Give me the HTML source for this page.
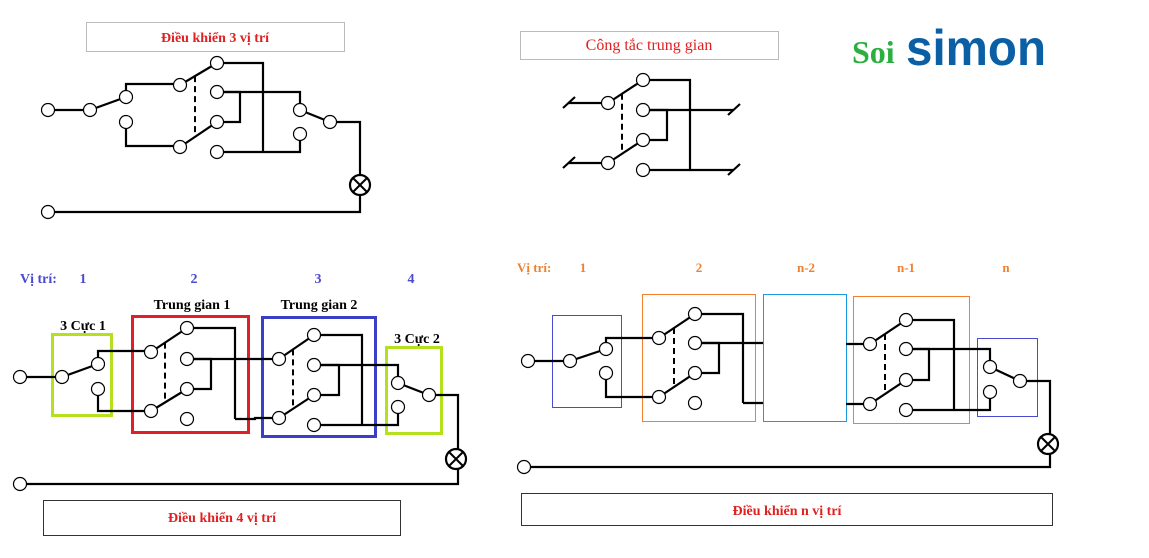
<!DOCTYPE html>
<html><head><meta charset="utf-8"><style>
html,body{margin:0;padding:0;background:#fff;}
body{width:1149px;height:558px;overflow:hidden;position:relative;}
svg{position:absolute;left:0;top:0;}
text{font-family:"Liberation Serif",serif;}
</style></head><body>
<svg id="s" width="1149" height="558" xmlns="http://www.w3.org/2000/svg">
<g fill="none" stroke-width="1">
<rect x="86.5" y="22.5" width="258" height="29" stroke="#bbb"/>
<rect x="520.5" y="31.5" width="258" height="28" stroke="#bbb"/>
<rect x="43.5" y="500.5" width="357" height="35" stroke="#333"/>
<rect x="521.5" y="493.5" width="531" height="32" stroke="#333"/>
<rect x="52.5" y="334.5" width="59" height="81" stroke="#b5e01e" stroke-width="3"/>
<rect x="132.5" y="316.5" width="116" height="116" stroke="#e02028" stroke-width="3"/>
<rect x="262.5" y="317.5" width="113" height="119" stroke="#3b3fc8" stroke-width="3"/>
<rect x="386.5" y="347.5" width="55" height="86" stroke="#b5e01e" stroke-width="3"/>
<rect x="552.5" y="315.5" width="69" height="92" stroke="#4a4ad0"/>
<rect x="642.5" y="294.5" width="113" height="127" stroke="#f08030"/>
<rect x="763.5" y="294.5" width="83" height="127" stroke="#1a9ae0"/>
<rect x="853.5" y="296.5" width="116" height="127" stroke="#f08030"/>
<rect x="977.5" y="338.5" width="60" height="78" stroke="#4a4ad0"/>
</g>
<g id="w" stroke="#000" stroke-width="2.2" fill="none"></g>
<g id="c" stroke="#000" stroke-width="1.2" fill="#fff"></g>
<text x="215" y="42" fill="#e02020" font-size="14" font-weight="bold" text-anchor="middle">Điều khiển 3 vị trí</text>
<text x="649" y="50" fill="#e02020" font-size="16" text-anchor="middle">Công tắc trung gian</text>
<text x="222" y="522" fill="#e02020" font-size="14" font-weight="bold" text-anchor="middle">Điều khiển 4 vị trí</text>
<text x="787" y="515" fill="#e02020" font-size="14" font-weight="bold" text-anchor="middle">Điều khiển n vị trí</text>
<text x="852" y="63" fill="#2bb040" font-size="32" font-weight="bold">Soi</text>
<text x="906" y="65" fill="#0b5fa5" font-size="50" font-weight="bold" style="font-family:'Liberation Sans',sans-serif" textLength="140" lengthAdjust="spacingAndGlyphs">simon</text>
<g fill="#4a4ad0" font-size="14" font-weight="bold">
<text x="20" y="283">Vị trí:</text>
<text x="83" y="283" text-anchor="middle">1</text>
<text x="194" y="283" text-anchor="middle">2</text>
<text x="318" y="283" text-anchor="middle">3</text>
<text x="411" y="283" text-anchor="middle">4</text>
</g>
<g fill="#000" font-size="14" font-weight="bold" text-anchor="middle">
<text x="83" y="330">3 Cực 1</text>
<text x="192" y="309">Trung gian 1</text>
<text x="319" y="309">Trung gian 2</text>
<text x="417" y="343">3 Cực 2</text>
</g>
<g fill="#f08030" font-size="13" font-weight="bold">
<text x="517" y="272">Vị trí:</text>
<text x="583" y="272" text-anchor="middle">1</text>
<text x="699" y="272" text-anchor="middle">2</text>
<text x="806" y="272" text-anchor="middle">n-2</text>
<text x="906" y="272" text-anchor="middle">n-1</text>
<text x="1006" y="272" text-anchor="middle">n</text>
</g>
</svg>
<script>
var W=document.getElementById('w'),C=document.getElementById('c'),NS='http://www.w3.org/2000/svg';
function P(d,dash){var p=document.createElementNS(NS,'path');p.setAttribute('d',d);if(dash){p.setAttribute('stroke-dasharray','6,4');p.setAttribute('stroke-width','2');}W.appendChild(p);}
function O(x,y){var c=document.createElementNS(NS,'circle');c.setAttribute('cx',x);c.setAttribute('cy',y);c.setAttribute('r',6.5);C.appendChild(c);}
function TG(lx,l1,l2,rx,r,lg,sh,dx){
 O(lx,l1);O(lx,l2);r.forEach(function(y){O(rx,y);});
 P('M'+lx+' '+l1+'L'+rx+' '+r[0]);P('M'+lx+' '+l2+'L'+rx+' '+r[2]);
 var t=(dx-lx)/(rx-lx);
 P('M'+dx+' '+(l1+(r[0]-l1)*t)+'L'+dx+' '+(l2+(r[2]-l2)*t),1);
 P('M'+rx+' '+r[0]+'H'+lg+'V'+r[3]);P('M'+rx+' '+r[1]+'H'+sh+'V'+r[2]+'H'+rx);
}
function lamp(x,y){var c=document.createElementNS(NS,'circle');c.setAttribute('cx',x);c.setAttribute('cy',y);c.setAttribute('r',10);C.appendChild(c);
 var g=document.createElementNS(NS,'path');g.setAttribute('d','M'+(x-7)+' '+(y-7)+'L'+(x+7)+' '+(y+7)+'M'+(x+7)+' '+(y-7)+'L'+(x-7)+' '+(y+7));g.setAttribute('stroke-width','2');C.appendChild(g);
 c.setAttribute('stroke-width','2.2');}
// top-left
P('M48 110H90L126 97V84H180');P('M126 122V146H180');
TG(180,85,147,217,[63,92,122,152],263,240,195);
P('M217 92H300V110');P('M217 152H300V134');P('M300 110L330 122H360V212H48');
O(48,110);O(90,110);O(126,97);O(126,122);O(300,110);O(300,134);O(330,122);O(48,212);lamp(360,185);
// top middle
TG(608,103,163,643,[80,110,140,170],690,667,622);
P('M568 103H608');P('M568 163H608');P('M643 110H733');P('M643 170H733');
P('M563 108L575 97');P('M563 168L575 157');P('M728 115L740 104');P('M728 175L740 164');
// bottom-left
P('M20 377H62L98 364V351H151');P('M98 389V411H151');
TG(151,352,411,187,[328,359,389,419],235,211,165);
P('M187 359H279');P('M235 419H255V418H279');
TG(279,359,418,314,[335,365,395,425],362,339,293);
P('M314 365H398V383');P('M314 425H398V407');P('M398 383L429 395H458V484H20');
O(20,377);O(62,377);O(98,364);O(98,389);O(398,383);O(398,407);O(429,395);O(20,484);lamp(456,459);
// bottom-right
P('M528 361H570L606 349V338H659');P('M606 373V397H659');
TG(659,338,397,695,[314,343,373,403],743,719,674);
P('M695 343H763');P('M743 403H763');
P('M846 344H870');P('M846 404H870');
TG(870,344,404,906,[320,349,380,410],954,929,885);
P('M906 349H990V367');P('M906 410H990V392');P('M990 367L1020 381H1050V467H524');
O(528,361);O(570,361);O(606,349);O(606,373);O(990,367);O(990,392);O(1020,381);O(524,467);lamp(1048,444);
</script>
</body></html>
